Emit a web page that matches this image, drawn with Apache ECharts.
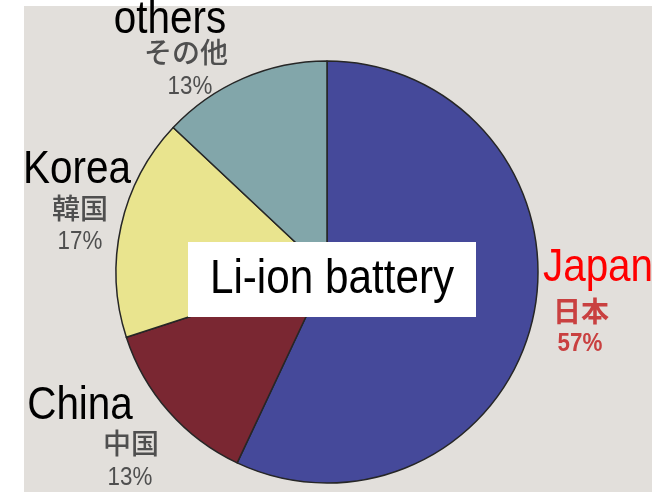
<!DOCTYPE html>
<html>
<head>
<meta charset="utf-8">
<script src="https://cdn.jsdelivr.net/npm/echarts@6/dist/echarts.min.js"></script>
<style>
  html, body { margin: 0; padding: 0; background: #ffffff; }
  #chart { width: 668px; height: 492px; }
</style>
</head>
<body>
<div id="chart"></div>
<script>
// Li-ion battery production share by country (%)
const countries   = ['Japan', 'China', 'Korea', 'others'];
const countriesJa = ['日本', '中国', '韓国', 'その他'];
const shares      = [57, 13, 17, 13];

// Slice fills, in the same order as the countries
const sliceColors = ['#45499a', '#7a2732', '#e9e48e', '#82a6aa'];

// Label anchors (centre x, middle y of each text line)
const labelPos = {
  Japan:  { en: [598, 268], ja: [581, 311], pct: [580, 344] },
  China:  { en: [80, 406],  ja: [131, 443], pct: [130, 478] },
  Korea:  { en: [77, 170],  ja: [80, 208],  pct: [80, 242] },
  others: { en: [170, 20],  ja: [186, 52],  pct: [190, 87] }
};

// Condensed look: a regular sans squeezed horizontally
const sans = '"Liberation Sans", Arial, sans-serif';
const cjk = '"Noto Sans CJK JP", "Noto Sans CJK SC", sans-serif';
const SQUEEZE = 0.86;

const chart = echarts.init(document.getElementById('chart'), null, { renderer: 'canvas' });

const labelElements = [];
countries.forEach((name, i) => {
  const p = labelPos[name];
  const isJapan = name === 'Japan';
  labelElements.push({
    type: 'text', z: 100, x: p.en[0], y: p.en[1], scaleX: SQUEEZE,
    style: {
      text: name, font: '47px ' + sans,
      fill: isJapan ? '#ff0000' : '#000000',
      align: 'center', verticalAlign: 'middle'
    }
  });
  labelElements.push({
    type: 'text', z: 100, x: p.ja[0], y: p.ja[1],
    style: {
      text: countriesJa[i],
      font: (isJapan ? 'bold ' : '500 ') + '28px ' + cjk,
      fill: isJapan ? '#c94040' : '#4f4f4f',
      align: 'center', verticalAlign: 'middle'
    }
  });
  labelElements.push({
    type: 'text', z: 100, x: p.pct[0], y: p.pct[1], scaleX: SQUEEZE,
    style: {
      text: shares[i] + '%',
      font: (isJapan ? 'bold ' : '') + '26px ' + sans,
      fill: isJapan ? '#c94040' : '#4f4f4f',
      align: 'center', verticalAlign: 'middle'
    }
  });
});

chart.setOption({
  backgroundColor: '#ffffff',
  animation: false,
  graphic: [
    // paper background
    { type: 'rect', z: -10, silent: true,
      shape: { x: 24, y: 6, width: 628, height: 486 },
      style: { fill: '#e2dfdb' } },
    // title box in the middle of the pie
    { type: 'rect', z: 90,
      shape: { x: 188, y: 242, width: 288, height: 75 },
      style: { fill: '#ffffff' } },
    { type: 'text', z: 100, x: 332, y: 280, scaleX: 0.88,
      style: { text: 'Li-ion battery', font: '48px ' + sans, fill: '#000000',
               align: 'center', verticalAlign: 'middle' } }
  ].concat(labelElements),
  series: [{
    type: 'pie',
    center: [327, 272],
    radius: 211,
    startAngle: 90,
    clockwise: true,
    label: { show: false },
    labelLine: { show: false },
    emphasis: { disabled: true },
    itemStyle: { borderColor: '#262626', borderWidth: 1.5 },
    data: countries.map((name, i) => ({
      name: name,
      value: shares[i],
      itemStyle: { color: sliceColors[i] }
    }))
  }]
});
</script>
</body>
</html>
